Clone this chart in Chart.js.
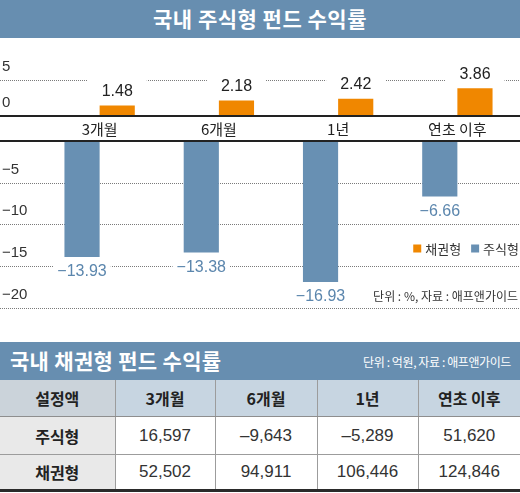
<!DOCTYPE html>
<html><head><meta charset="utf-8">
<script src="https://cdn.jsdelivr.net/npm/chart.js@4/dist/chart.umd.min.js"></script>
<style>
html,body{margin:0;padding:0;background:#fff;}
body{width:520px;height:493px;overflow:hidden;font-family:"Noto Sans CJK KR","Liberation Sans",sans-serif;}
.banner{background:#678eb0;color:#fff;height:38px;position:relative;box-sizing:border-box;}
#t1{text-align:center;font-weight:bold;font-size:21px;line-height:37px;letter-spacing:0.5px;}
#chartBox{position:relative;width:520px;height:304px;}
#c{display:block;}
#t2 .ttl{position:absolute;left:10px;top:0;font-weight:bold;font-size:21px;line-height:37px;letter-spacing:0.3px;}
#t2 .note{position:absolute;right:9px;top:0;font-size:12px;line-height:40px;letter-spacing:-0.4px;}
table{border-collapse:collapse;width:520px;table-layout:fixed;}
td,th{text-align:center;color:#222;padding:0;border-left:1px solid #9c9c9c;border-right:1px solid #9c9c9c;}
th{background:#c7d5e1;font-weight:bold;font-size:16px;height:36px;border-bottom:1px solid #8e8e8e;}
th.first{background:#cbd3da;}
td{font-family:"Liberation Sans","Noto Sans CJK KR",sans-serif;font-size:17px;color:#333;border-bottom:1px solid #9c9c9c;}
td.rowh{background:#e9e9e9;font-family:"Noto Sans CJK KR",sans-serif;font-weight:bold;font-size:16px;color:#222;}
tr.r1 td{height:37px;}
tr.r2 td{height:34px;border-bottom:3px solid #2a2a2a;}
tr > :first-child{border-left:none;}
tr > :last-child{border-right:none;}
</style>
</head>
<body>
<div class="banner" id="t1">국내 주식형 펀드 수익률</div>
<div id="chartBox"><canvas id="c" width="520" height="304"></canvas></div>
<div class="banner" id="t2"><span class="ttl">국내 채권형 펀드 수익률</span><span class="note">단위 : 억원, 자료 : 애프앤가이드</span></div>
<table id="tbl"></table>
<script>
// ---- data ----
const categories = ['3개월', '6개월', '1년', '연초 이후'];
const seriesNames = ['채권형', '주식형'];
const bondReturns = [1.48, 2.18, 2.42, 3.86];
const equityReturns = [-13.93, -13.38, -16.93, -6.66];
const posTicks = [0, 5];
const negTicks = [-5, -10, -15, -20];
const unitNote = '단위 : %, 자료 : 애프앤가이드';
const tableHeader = ['설정액', '3개월', '6개월', '1년', '연초 이후'];
const tableRowNames = ['주식형', '채권형'];
const equitySetup = [16597, -9643, -5289, 51620];
const bondSetup = [52502, 94911, 106446, 124846];

// ---- table ----
const colW = [115, 100, 102, 101, 102];
const fmt = v => (v < 0 ? '–' : '') + Math.abs(v).toLocaleString('en-US');
(function buildTable(){
  const t = document.getElementById('tbl');
  const cg = document.createElement('colgroup');
  colW.forEach(w => { const c = document.createElement('col'); c.style.width = w + 'px'; cg.appendChild(c); });
  t.appendChild(cg);
  const hr = document.createElement('tr');
  tableHeader.forEach((h, i) => { const th = document.createElement('th'); th.textContent = h; if (i === 0) th.className = 'first'; hr.appendChild(th); });
  t.appendChild(hr);
  [equitySetup, bondSetup].forEach((row, ri) => {
    const tr = document.createElement('tr'); tr.className = 'r' + (ri + 1);
    const h = document.createElement('td'); h.className = 'rowh'; h.textContent = tableRowNames[ri]; tr.appendChild(h);
    row.forEach(v => { const td = document.createElement('td'); td.textContent = fmt(v); tr.appendChild(td); });
    t.appendChild(tr);
  });
})();

// ---- chart ----
const BLUE = '#6890b3', ORANGE = '#f08700', BLUE_TXT = '#5b86ad';
const NUMFONT = '"Liberation Sans", "Noto Sans CJK KR", sans-serif';
const KRFONT = '"Noto Sans CJK KR", sans-serif';
const minus = v => v < 0 ? '−' + Math.abs(v) : String(v);
const setTicks = arr => scale => { scale.ticks = arr.map(v => ({ value: v })); };
const fixW = scale => { scale.width = 38; };
const tickOpts = { crossAlign: 'far', labelOffset: -13, padding: 0, color: '#333', font: { family: NUMFONT, size: 15 }, autoSkip: false, callback: v => minus(v) };

// dotted grid lines (dense dots) from the scales' own ticks, drawn under the bars
const dottedGrid = {
  id: 'dottedGrid',
  beforeDatasetsDraw(chart) {
    const ctx = chart.ctx, W = chart.width;
    ctx.save();
    ctx.fillStyle = '#7a7a7a';
    ['yPos', 'yNeg'].forEach(id => {
      const sc = chart.scales[id];
      sc.ticks.forEach(t => {
        const y = Math.round(sc.getPixelForValue(t.value));
        for (let px = 0; px < W; px += 2) ctx.fillRect(px, y, 1, 1);
      });
    });
    ctx.restore();
  }
};

const overlay = {
  id: 'overlay',
  afterDatasetsDraw(chart) {
    const ctx = chart.ctx;
    const x = chart.scales.x, yP = chart.scales.yPos, yN = chart.scales.yNeg;
    const W = chart.width;
    const y0p = yP.getPixelForValue(0), y0n = yN.getPixelForValue(0);
    ctx.save();
    // zero lines
    ctx.fillStyle = '#222';
    [y0p, y0n].forEach(y => ctx.fillRect(0, Math.round(y) - 1, W, 2));
    // category labels
    ctx.fillStyle = '#222'; ctx.font = '15px ' + KRFONT; ctx.textAlign = 'center'; ctx.textBaseline = 'middle';
    categories.forEach((c, i) => ctx.fillText(c, x.getPixelForValue(i), (y0p + y0n) / 2 + 1));
    // value labels
    ctx.font = '16px ' + NUMFONT;
    const metaB = chart.getDatasetMeta(0), metaO = chart.getDatasetMeta(1);
    metaO.data.forEach((el, i) => {
      const s = bondReturns[i].toFixed(2); const w = ctx.measureText(s).width;
      const cy = el.y - 14;
      ctx.fillStyle = '#fff'; ctx.fillRect(el.x - w / 2 - 14, cy - 13, w + 28, 24);
      ctx.fillStyle = '#222'; ctx.fillText(s, el.x, cy);
    });
    metaB.data.forEach((el, i) => {
      const s = '−' + Math.abs(equityReturns[i]).toFixed(2); const w = ctx.measureText(s).width;
      const cy = el.y + 15;
      ctx.fillStyle = '#fff'; ctx.fillRect(el.x - w / 2 - 4, cy - 10, w + 8, 20);
      ctx.fillStyle = BLUE_TXT; ctx.fillText(s, el.x, cy);
    });
    // legend (right aligned)
    ctx.font = '13px ' + KRFONT; ctx.textBaseline = 'middle'; ctx.textAlign = 'left';
    const ly = yN.getPixelForValue(-12.9);
    let right = W - 1;
    const items = [[seriesNames[1], BLUE], [seriesNames[0], ORANGE]];
    items.forEach(([name, col]) => {
      const tw = ctx.measureText(name).width;
      const tx = right - tw;
      ctx.fillStyle = '#333'; ctx.fillText(name, tx, ly + 1);
      ctx.fillStyle = col; ctx.fillRect(tx - 12, ly - 4, 8, 8);
      right = tx - 12 - 10;
    });
    // unit note
    ctx.font = '12px ' + KRFONT; ctx.textAlign = 'right';
    const ny = yN.getPixelForValue(-18.5);
    const nw = ctx.measureText(unitNote).width;
    ctx.fillStyle = '#fff'; ctx.fillRect(W - 2 - nw - 4, ny - 9, nw + 6, 18);
    ctx.fillStyle = '#333'; ctx.fillText(unitNote, W - 2, ny + 1);
    ctx.restore();
  }
};

new Chart(document.getElementById('c'), {
  type: 'bar',
  data: {
    labels: categories,
    datasets: [
      { label: seriesNames[1], data: equityReturns, backgroundColor: BLUE, yAxisID: 'yNeg', categoryPercentage: 0.59, barPercentage: 1 },
      { label: seriesNames[0], data: bondReturns, backgroundColor: ORANGE, yAxisID: 'yPos', categoryPercentage: 0.59, barPercentage: 1 }
    ]
  },
  options: {
    responsive: false, animation: false, devicePixelRatio: 1,
    layout: { padding: { left: 2, right: 3, top: 10, bottom: 26 } },
    plugins: { legend: { display: false }, tooltip: { enabled: false } },
    scales: {
      x: { display: false },
      yNeg: { type: 'linear', position: 'left', stack: 's', stackWeight: 175, min: -21, max: 0,
        afterBuildTicks: setTicks(negTicks), afterFit: fixW,
        grid: { display: false }, border: { display: false }, ticks: tickOpts },
      yGap: { type: 'linear', position: 'left', stack: 's', stackWeight: 25, min: 0, max: 1,
        afterFit: fixW, grid: { display: false }, border: { display: false }, ticks: { display: false } },
      yPos: { type: 'linear', position: 'left', stack: 's', stackWeight: 68, min: 0, max: 9.5,
        afterBuildTicks: setTicks(posTicks), afterFit: fixW,
        grid: { display: false }, border: { display: false }, ticks: tickOpts }
    }
  },
  plugins: [dottedGrid, overlay]
});
</script>
</body></html>
